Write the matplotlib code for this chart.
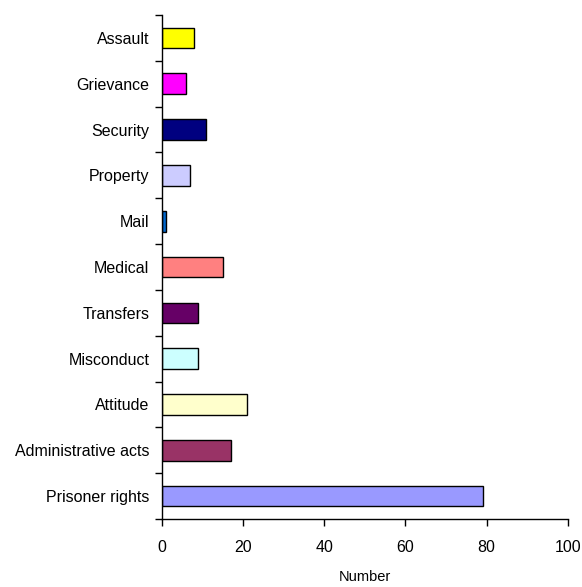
import numpy as np
import matplotlib.pyplot as plt

plt.rcParams['font.family'] = ['Liberation Sans', 'DejaVu Sans']

# data, bottom to top
categories = ['Prisoner rights', 'Administrative acts', 'Attitude', 'Misconduct',
              'Transfers', 'Medical', 'Mail', 'Property', 'Security',
              'Grievance', 'Assault']
values = [79, 17, 21, 9, 9, 15, 1, 7, 11, 6, 8]
colors = ['#9999FF', '#993366', '#FFFFCC', '#CCFFFF', '#660066', '#FF8080',
          '#0066CC', '#CCCCFF', '#000080', '#FF00FF', '#FFFF00']
x_ticks = [0, 20, 40, 60, 80, 100]

fig = plt.figure(figsize=(5.82, 5.87), dpi=100)
ax = fig.add_axes([0.278, 0.1158, 0.6976, 0.8586])

y = np.arange(len(categories))
ax.barh(y, values, height=0.45, color=colors, edgecolor='black', linewidth=1)

ax.set_xlim(0, 100)
ax.set_ylim(-0.5, len(categories) - 0.5)
ax.set_xticks(x_ticks)
ax.set_xticklabels([str(t) for t in x_ticks], fontsize=11.5)
ax.set_yticks(y)
ax.set_yticklabels(categories, fontsize=11.5)
ax.set_yticks(np.arange(len(categories) + 1) - 0.5, minor=True)
ax.tick_params(axis='y', which='major', length=0, pad=9)
ax.tick_params(axis='y', which='minor', length=5, width=1, direction='out')
ax.tick_params(axis='x', length=5, width=1, direction='out', pad=10)

for side in ['top', 'right']:
    ax.spines[side].set_visible(False)
for side in ['left', 'bottom']:
    ax.spines[side].set_linewidth(1)

ax.set_xlabel('Number', fontsize=10.5, labelpad=11)

fig.savefig('out.png', dpi=100)
